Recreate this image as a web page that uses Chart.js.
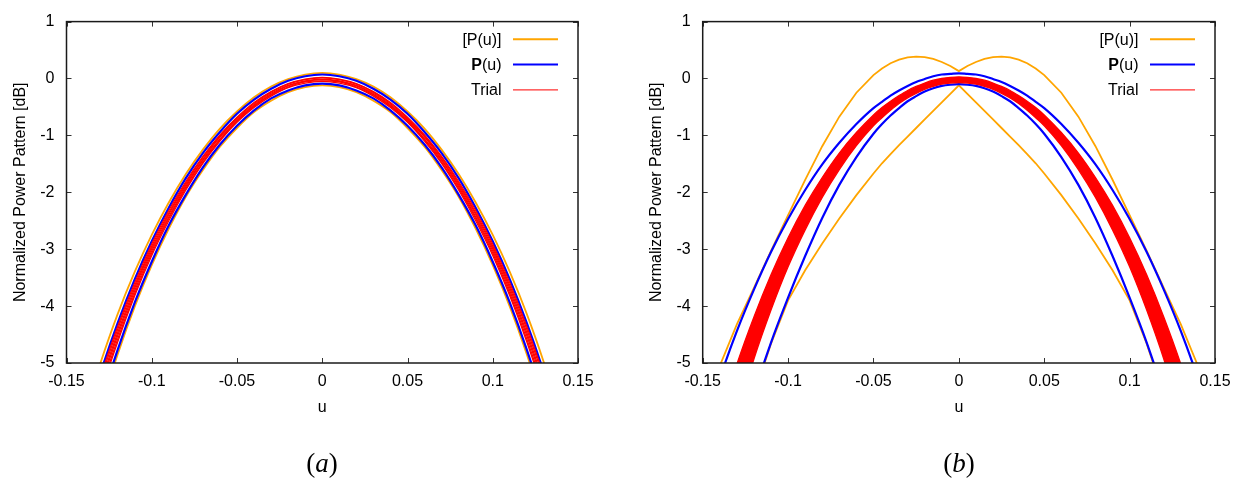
<!DOCTYPE html>
<html>
<head>
<meta charset="utf-8">
<script src="https://cdn.jsdelivr.net/npm/chart.js@4.4.1/dist/chart.umd.min.js"></script>
<style>
  html, body { margin: 0; padding: 0; background: #fff; }
  #wrap { position: relative; width: 1246px; height: 484px; overflow: hidden; }
  canvas { position: absolute; top: 0; }
  #chartA { left: 0; }
  #chartB { left: 623px; }
  .cap { position: absolute; top: 463px; transform: translate(-50%, -50%);
         font-family: "Liberation Serif", "Times New Roman", serif; font-size: 27px; color: #000; white-space: nowrap; }
</style>
</head>
<body>
<div id="wrap">
  <canvas id="chartA" width="623" height="484"></canvas>
  <canvas id="chartB" width="623" height="484"></canvas>
  <div class="cap" style="left:322px">(<i>a</i>)</div>
  <div class="cap" style="left:959px">(<i>b</i>)</div>
</div>
<script>
// ---- panel (a) ----
const uA = [-0.15, -0.14, -0.13, -0.12, -0.11, -0.10, -0.09, -0.08, -0.07, -0.06, -0.05, -0.04, -0.03, -0.02, -0.01, 0,
            0.01, 0.02, 0.03, 0.04, 0.05, 0.06, 0.07, 0.08, 0.09, 0.10, 0.11, 0.12, 0.13, 0.14, 0.15];
const orangeUpA = [-7.04,-5.94,-4.99,-4.14,-3.40,-2.75,-2.18,-1.68,-1.25,-0.88,-0.58,-0.33,-0.14,-0.01,0.07,0.10,
                   0.07,-0.01,-0.14,-0.33,-0.58,-0.88,-1.25,-1.68,-2.18,-2.75,-3.40,-4.14,-4.99,-5.94,-7.04];
const orangeLowA = [-8.16,-6.90,-5.80,-4.85,-4.01,-3.28,-2.64,-2.08,-1.61,-1.20,-0.87,-0.59,-0.39,-0.24,-0.15,-0.12,
                    -0.15,-0.24,-0.39,-0.59,-0.87,-1.20,-1.61,-2.08,-2.64,-3.28,-4.01,-4.85,-5.80,-6.90,-8.16];
const blueUpA = [-7.29,-6.16,-5.17,-4.30,-3.53,-2.86,-2.27,-1.75,-1.31,-0.94,-0.62,-0.37,-0.18,-0.04,0.04,0.07,
                 0.04,-0.04,-0.18,-0.37,-0.62,-0.94,-1.31,-1.75,-2.27,-2.86,-3.53,-4.30,-5.17,-6.16,-7.29];
const blueLowA = [-8.04,-6.79,-5.71,-4.77,-3.94,-3.22,-2.58,-2.04,-1.56,-1.16,-0.83,-0.56,-0.35,-0.21,-0.12,-0.09,
                  -0.12,-0.21,-0.35,-0.56,-0.83,-1.16,-1.56,-2.04,-2.58,-3.22,-3.94,-4.77,-5.71,-6.79,-8.04];
const trialsA = [
  [-7.36,-6.22,-5.23,-4.36,-3.59,-2.91,-2.32,-1.81,-1.37,-0.99,-0.68,-0.42,-0.23,-0.09,-0.01,0.02,
   -0.01,-0.09,-0.23,-0.42,-0.68,-0.99,-1.37,-1.81,-2.32,-2.91,-3.59,-4.36,-5.23,-6.22,-7.36],
  [-7.45,-6.30,-5.29,-4.41,-3.64,-2.95,-2.36,-1.84,-1.39,-1.01,-0.70,-0.44,-0.24,-0.10,-0.02,0.01,
   -0.02,-0.10,-0.24,-0.44,-0.70,-1.01,-1.39,-1.84,-2.36,-2.95,-3.64,-4.41,-5.29,-6.30,-7.45],
  [-7.54,-6.38,-5.36,-4.47,-3.68,-2.99,-2.39,-1.87,-1.42,-1.03,-0.72,-0.46,-0.26,-0.12,-0.04,-0.01,
   -0.04,-0.12,-0.26,-0.46,-0.72,-1.03,-1.42,-1.87,-2.39,-2.99,-3.68,-4.47,-5.36,-6.38,-7.54],
  [-7.63,-6.45,-5.42,-4.52,-3.73,-3.03,-2.43,-1.90,-1.44,-1.06,-0.74,-0.48,-0.28,-0.13,-0.05,-0.02,
   -0.05,-0.13,-0.28,-0.48,-0.74,-1.06,-1.44,-1.90,-2.43,-3.03,-3.73,-4.52,-5.42,-6.45,-7.63],
  [-7.72,-6.53,-5.49,-4.58,-3.78,-3.07,-2.46,-1.93,-1.47,-1.08,-0.75,-0.49,-0.29,-0.15,-0.06,-0.04,
   -0.06,-0.15,-0.29,-0.49,-0.75,-1.08,-1.47,-1.93,-2.46,-3.07,-3.78,-4.58,-5.49,-6.53,-7.72],
  [-7.81,-6.61,-5.55,-4.63,-3.82,-3.11,-2.50,-1.96,-1.49,-1.10,-0.77,-0.51,-0.31,-0.16,-0.08,-0.05,
   -0.08,-0.16,-0.31,-0.51,-0.77,-1.10,-1.49,-1.96,-2.50,-3.11,-3.82,-4.63,-5.55,-6.61,-7.81]
];

// ---- panel (b) ----
const uB = [-0.15,-0.14,-0.13,-0.12,-0.11,-0.10,-0.09,-0.08,-0.07,-0.06,-0.05,-0.045,-0.04,-0.035,-0.03,-0.025,-0.02,-0.015,-0.01,-0.005,0,
            0.005,0.01,0.015,0.02,0.025,0.03,0.035,0.04,0.045,0.05,0.06,0.07,0.08,0.09,0.10,0.11,0.12,0.13,0.14,0.15];
const orangeUpB = [-5.85,-5.05,-4.32,-3.68,-3.03,-2.40,-1.78,-1.19,-0.67,-0.25,0.06,0.177,0.268,0.333,0.372,0.385,0.375,0.345,0.29,0.22,0.13,
                   0.22,0.29,0.345,0.375,0.385,0.372,0.333,0.268,0.177,0.06,-0.25,-0.67,-1.19,-1.78,-2.40,-3.03,-3.68,-4.32,-5.05,-5.85];
const orangeLowB = [-9.47,-7.97,-6.68,-5.57,-4.66,-3.90,-3.37,-2.90,-2.46,-2.05,-1.67,-1.49,-1.33,-1.17,-1.02,-0.87,-0.72,-0.57,-0.42,-0.27,-0.12,
                    -0.27,-0.42,-0.57,-0.72,-0.87,-1.02,-1.17,-1.33,-1.49,-1.67,-2.05,-2.46,-2.90,-3.37,-3.90,-4.66,-5.57,-6.68,-7.97,-9.47];
const blueUpB = [-6.21,-5.27,-4.44,-3.71,-3.05,-2.47,-1.96,-1.51,-1.13,-0.80,-0.52,-0.41,-0.30,-0.21,-0.13,-0.06,-0.01,0.04,0.07,0.08,0.09,
                 0.08,0.07,0.04,-0.01,-0.06,-0.13,-0.21,-0.30,-0.41,-0.52,-0.80,-1.13,-1.51,-1.96,-2.47,-3.05,-3.71,-4.44,-5.27,-6.21];
const blueLowB = [-9.25,-7.85,-6.62,-5.55,-4.64,-3.85,-3.12,-2.45,-1.87,-1.38,-0.97,-0.80,-0.65,-0.52,-0.40,-0.31,-0.23,-0.17,-0.13,-0.11,-0.10,
                  -0.11,-0.13,-0.17,-0.23,-0.31,-0.40,-0.52,-0.65,-0.80,-0.97,-1.38,-1.87,-2.45,-3.12,-3.85,-4.64,-5.55,-6.62,-7.85,-9.25];
const trialTopB = [-7.05,-5.97,-5.02,-4.19,-3.45,-2.80,-2.23,-1.74,-1.31,-0.95,-0.64,-0.51,-0.40,-0.30,-0.21,-0.14,-0.08,-0.03,0.00,0.02,0.03,
                   0.02,0.00,-0.03,-0.08,-0.14,-0.21,-0.30,-0.40,-0.51,-0.64,-0.95,-1.31,-1.74,-2.23,-2.80,-3.45,-4.19,-5.02,-5.97,-7.05];
const trialLowB = [-8.35,-7.05,-5.92,-4.93,-4.07,-3.31,-2.66,-2.09,-1.60,-1.18,-0.83,-0.69,-0.56,-0.44,-0.34,-0.26,-0.19,-0.14,-0.10,-0.08,-0.07,
                   -0.08,-0.10,-0.14,-0.19,-0.26,-0.34,-0.44,-0.56,-0.69,-0.83,-1.18,-1.60,-2.09,-2.66,-3.31,-4.07,-4.93,-5.92,-7.05,-8.35];

// ---- text ----
const xTitle = 'u';
const yTitle = 'Normalized Power Pattern [dB]';
const legendParts = [[['[P(u)]', false]], [['P', true], ['(u)', false]], [['Trial', false]]];
const legendColors = ['#ffa500', '#0000ff', '#ff3030'];
const legendWidths = [2, 2, 1.3];

const FONT = '"Liberation Sans", Arial, Helvetica, sans-serif';
const ORANGE = '#ffa500', BLUE = '#0000ff', RED = '#ff0000';

function pts(u, v) {
    return u.map((x, i) => ({ x: x, y: v[i] }));
}

// frame with inward ticks, axis titles and a gnuplot-like legend
const framePlugin = {
    id: 'frame',
    afterDraw(chart) {
        const { ctx, chartArea: a, scales } = chart;
        const xs = scales.x, ys = scales.y;
        ctx.save();
        ctx.strokeStyle = '#333';
        ctx.lineWidth = 1;
        ctx.beginPath();
        xs.ticks.forEach(t => {
            const px = Math.round(xs.getPixelForValue(t.value)) + 0.5;
            ctx.moveTo(px, a.bottom); ctx.lineTo(px, a.bottom - 5);
            ctx.moveTo(px, a.top); ctx.lineTo(px, a.top + 5);
        });
        ys.ticks.forEach(t => {
            const py = Math.round(ys.getPixelForValue(t.value)) + 0.5;
            ctx.moveTo(a.left, py); ctx.lineTo(a.left + 5, py);
            ctx.moveTo(a.right, py); ctx.lineTo(a.right - 5, py);
        });
        ctx.stroke();
        ctx.strokeStyle = '#1a1a1a';
        ctx.lineWidth = 1.5;
        ctx.strokeRect(a.left, a.top, a.right - a.left, a.bottom - a.top);

        ctx.fillStyle = '#000';
        ctx.font = '16px ' + FONT;
        ctx.textAlign = 'center';
        ctx.textBaseline = 'alphabetic';
        ctx.fillText(xTitle, xs.getPixelForValue(0), 411.5);

        ctx.save();
        ctx.translate(a.left - 46, (a.top + a.bottom) / 2);
        ctx.rotate(-Math.PI / 2);
        ctx.textBaseline = 'middle';
        ctx.fillText(yTitle, 0, 0);
        ctx.restore();

        ctx.textBaseline = 'middle';
        ctx.textAlign = 'left';
        legendParts.forEach((parts, i) => {
            const yRow = a.top + 17.7 + i * 25.3;
            let w = 0;
            parts.forEach(p => {
                ctx.font = (p[1] ? 'bold ' : '') + '16px ' + FONT;
                w += ctx.measureText(p[0]).width;
            });
            let x0 = a.right - 76.5 - w;
            parts.forEach(p => {
                ctx.font = (p[1] ? 'bold ' : '') + '16px ' + FONT;
                ctx.fillText(p[0], x0, yRow + 1);
                x0 += ctx.measureText(p[0]).width;
            });
            ctx.strokeStyle = legendColors[i];
            ctx.lineWidth = legendWidths[i];
            ctx.beginPath();
            ctx.moveTo(a.right - 65, yRow);
            ctx.lineTo(a.right - 20, yRow);
            ctx.stroke();
        });
        ctx.restore();
    }
};

function makeChart(id, datasets, yWidth, rightPad) {
    const ctx = document.getElementById(id).getContext('2d');
    return new Chart(ctx, {
        type: 'line',
        data: { datasets: datasets },
        options: {
            responsive: false,
            animation: false,
            layout: { padding: { left: 0, right: rightPad, top: 15, bottom: 0 } },
            plugins: { legend: { display: false }, tooltip: { enabled: false } },
            elements: { point: { radius: 0 } },
            scales: {
                x: {
                    type: 'linear', min: -0.15, max: 0.15,
                    grid: { display: false, drawTicks: false },
                    border: { display: false },
                    ticks: {
                        stepSize: 0.05, padding: 9, color: '#000', maxRotation: 0, autoSkip: false,
                        font: { family: FONT, size: 16 },
                        callback: v => String(Number(v.toFixed(2)))
                    },
                    afterFit(s) { s.height = 121; }
                },
                y: {
                    min: -5, max: 1,
                    grid: { display: false, drawTicks: false },
                    border: { display: false },
                    ticks: { stepSize: 1, padding: 12, color: '#000', font: { family: FONT, size: 16 } },
                    afterFit(s) { s.width = yWidth; }
                }
            }
        },
        plugins: [framePlugin]
    });
}

function line(u, v, color, width, order, extra) {
    return Object.assign({
        data: pts(u, v), borderColor: color, borderWidth: width, fill: false,
        cubicInterpolationMode: 'monotone', pointRadius: 0, order: order
    }, extra || {});
}

const dsA = [
    line(uA, orangeUpA, ORANGE, 1.8, 3),
    line(uA, orangeLowA, ORANGE, 1.8, 3),
    line(uA, blueUpA, BLUE, 2.2, 2),
    line(uA, blueLowA, BLUE, 2.2, 2)
].concat(trialsA.map(t => line(uA, t, RED, 1.3, 1)));

const dsB = [
    line(uB, orangeUpB, ORANGE, 1.8, 3, { cubicInterpolationMode: 'default', tension: 0 }),
    line(uB, orangeLowB, ORANGE, 1.8, 3, { cubicInterpolationMode: 'default', tension: 0 }),
    line(uB, blueUpB, BLUE, 2.2, 2),
    line(uB, blueLowB, BLUE, 2.2, 2),
    line(uB, trialTopB, RED, 1.3, 1),
    line(uB, trialLowB, RED, 1.3, 1, { fill: '-1', backgroundColor: RED })
];

makeChart('chartA', dsA, 66.5, 45);
makeChart('chartB', dsB, 79.7, 31);
</script>
</body>
</html>
